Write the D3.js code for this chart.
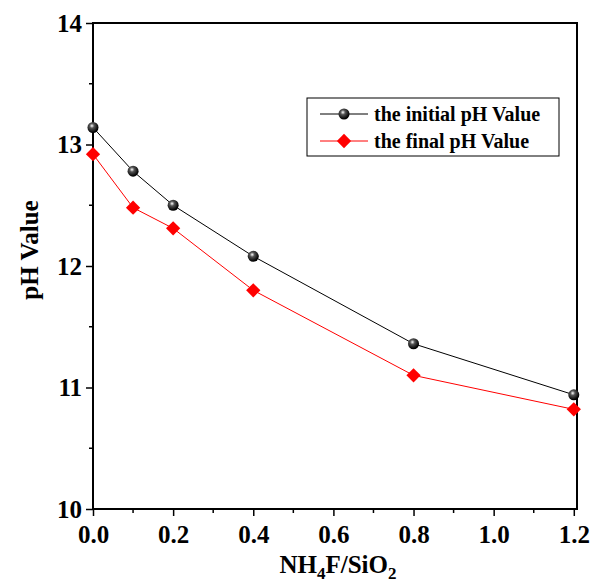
<!DOCTYPE html>
<html>
<head>
<meta charset="utf-8">
<script src="https://cdn.jsdelivr.net/npm/d3@7"></script>
<style>
  body { margin: 0; background: #fff; }
  text { font-family: "Liberation Serif", "DejaVu Serif", serif; font-weight: bold; }
</style>
</head>
<body>
<svg id="chart" width="595" height="585"></svg>
<script>
const ratios = [0.0, 0.1, 0.2, 0.4, 0.8, 1.2];
const initialPH = [13.14, 12.78, 12.50, 12.08, 11.36, 10.94];
const finalPH = [12.92, 12.48, 12.31, 11.80, 11.10, 10.82];
const xTicks = [0, 0.2, 0.4, 0.6, 0.8, 1.0, 1.2];
const yTicks = [10, 11, 12, 13, 14];

const chart = d3.select("#chart");

const xScale = d3.scaleLinear().domain([0, 1.208]).range([93, 577]);
const yScale = d3.scaleLinear().domain([10, 14]).range([509, 23]);

// sphere gradient for the initial markers
const defs = chart.append("defs");
const grad = defs.append("radialGradient")
  .attr("id", "ball").attr("cx", "40%").attr("cy", "35%").attr("r", "60%");
grad.append("stop").attr("offset", "0%").attr("stop-color", "#ffffff");
grad.append("stop").attr("offset", "35%").attr("stop-color", "#555");
grad.append("stop").attr("offset", "100%").attr("stop-color", "#000");

// frame
chart.append("rect")
  .attr("x", 93).attr("y", 23)
  .attr("width", 484).attr("height", 486)
  .attr("fill", "none").attr("stroke", "black").attr("stroke-width", 2);

// x axis
const xAxis = d3.axisBottom(xScale)
  .tickValues(xTicks)
  .tickFormat(d3.format(".1f"))
  .tickSize(7)
  .tickSizeOuter(0);
const gx = chart.append("g").attr("transform", "translate(0,509)").call(xAxis);
gx.select(".domain").remove();
gx.selectAll("line").attr("stroke-width", 1.5);
gx.selectAll("text").attr("font-size", 25).attr("dy", "0.95em")
  .style("font-family", "Liberation Serif, serif").style("font-weight", "bold");
// minor x ticks
chart.append("g").selectAll("line")
  .data([0.1, 0.3, 0.5, 0.7, 0.9, 1.1])
  .join("line")
  .attr("x1", (d) => xScale(d)).attr("x2", (d) => xScale(d))
  .attr("y1", 509).attr("y2", 513)
  .attr("stroke", "black").attr("stroke-width", 1.5);

// y axis
const yAxis = d3.axisLeft(yScale)
  .tickValues(yTicks)
  .tickFormat(d3.format("d"))
  .tickSize(7)
  .tickSizeOuter(0);
const gy = chart.append("g").attr("transform", "translate(93,0)").call(yAxis);
gy.select(".domain").remove();
gy.selectAll("line").attr("stroke-width", 1.5);
gy.selectAll("text").attr("font-size", 25).attr("x", -11)
  .style("font-family", "Liberation Serif, serif").style("font-weight", "bold");
chart.append("g").selectAll("line")
  .data([10.5, 11.5, 12.5, 13.5])
  .join("line")
  .attr("x1", 89).attr("x2", 93)
  .attr("y1", (d) => yScale(d)).attr("y2", (d) => yScale(d))
  .attr("stroke", "black").attr("stroke-width", 1.5);

const line = d3.line()
  .x((d) => xScale(d[0]))
  .y((d) => yScale(d[1]));

const initialData = ratios.map((r, i) => [r, initialPH[i]]);
const finalData = ratios.map((r, i) => [r, finalPH[i]]);

chart.append("path").datum(initialData)
  .attr("d", line).attr("fill", "none").attr("stroke", "black").attr("stroke-width", 1);
chart.append("path").datum(finalData)
  .attr("d", line).attr("fill", "none").attr("stroke", "red").attr("stroke-width", 1);

const diamond = d3.symbol().type(d3.symbolDiamond2).size(130);

chart.append("g").selectAll("path")
  .data(finalData)
  .join("path")
  .attr("d", diamond)
  .attr("transform", (d) => `translate(${xScale(d[0])},${yScale(d[1])})`)
  .attr("fill", "red");

chart.append("g").selectAll("circle")
  .data(initialData)
  .join("circle")
  .attr("cx", (d) => xScale(d[0]))
  .attr("cy", (d) => yScale(d[1]))
  .attr("r", 5.5)
  .attr("fill", "url(#ball)");

// legend
const legend = chart.append("g");
legend.append("rect")
  .attr("x", 307).attr("y", 98).attr("width", 252).attr("height", 58)
  .attr("fill", "white").attr("stroke", "black").attr("stroke-width", 1);
legend.append("line").attr("x1", 320).attr("x2", 368).attr("y1", 114).attr("y2", 114)
  .attr("stroke", "black");
legend.append("circle").attr("cx", 344).attr("cy", 114).attr("r", 5.5).attr("fill", "url(#ball)");
legend.append("text").attr("x", 374).attr("y", 121).attr("font-size", 20)
  .text("the initial pH Value");
legend.append("line").attr("x1", 320).attr("x2", 368).attr("y1", 141).attr("y2", 141)
  .attr("stroke", "red");
legend.append("path").attr("d", diamond).attr("transform", "translate(344,141)").attr("fill", "red");
legend.append("text").attr("x", 374).attr("y", 148).attr("font-size", 20)
  .text("the final pH Value");

// axis titles
const xt = chart.append("text")
  .attr("x", 338).attr("y", 573)
  .attr("text-anchor", "middle")
  .attr("font-size", 25);
xt.append("tspan").text("NH");
xt.append("tspan").attr("font-size", 17).attr("dy", 6).text("4");
xt.append("tspan").attr("dy", -6).text("F/SiO");
xt.append("tspan").attr("font-size", 17).attr("dy", 6).text("2");

chart.append("text")
  .attr("transform", "translate(38,250) rotate(-90)")
  .attr("text-anchor", "middle")
  .attr("font-size", 25)
  .text("pH Value");
</script>
</body>
</html>
